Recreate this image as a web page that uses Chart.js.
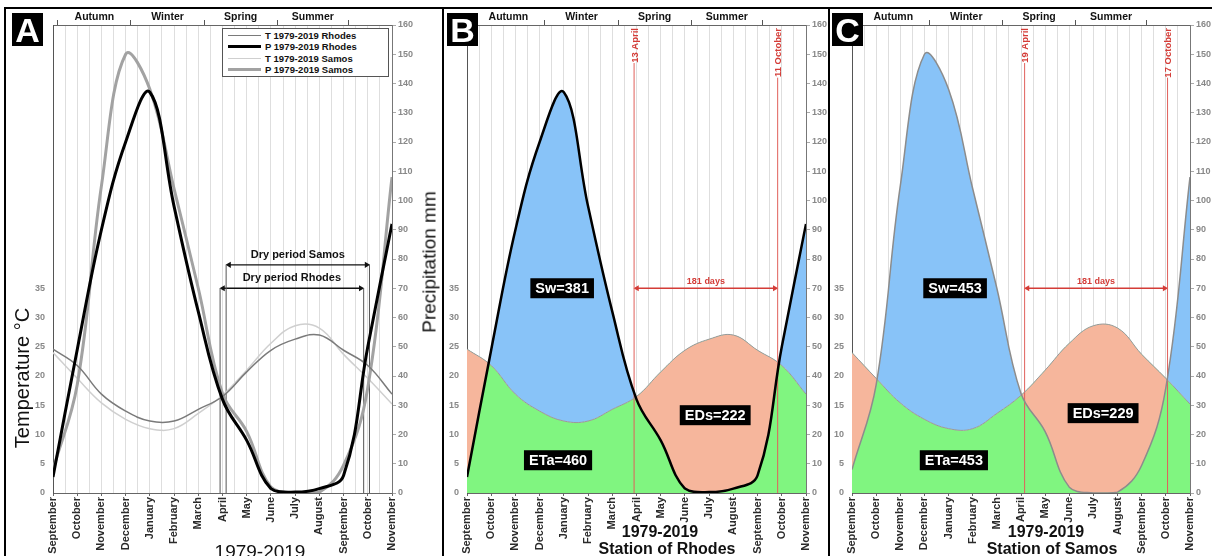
<!DOCTYPE html>
<html>
<head>
<meta charset="utf-8">
<script src="https://cdn.jsdelivr.net/npm/chart.js@4.4.1/dist/chart.umd.min.js"></script>
<style>
  body { margin: 0; background: #fff; font-family: "Liberation Sans", Arial, sans-serif; }
  #fig { position: relative; width: 1212px; height: 556px; overflow: hidden; background: #fff; }
  canvas { position: absolute; }
  .rule { position: absolute; background: #000; }
  .tag { position: absolute; width: 31px; height: 33px; background: #000; color: #fff;
         font: bold 34px "Liberation Sans", Arial, sans-serif; line-height: 34px; text-align: center; }
  .txt { position: absolute; white-space: nowrap; line-height: 1; color: #111; }
  .ctr { transform: translate(-50%, -50%); }
  .vert { transform: translate(-50%, -50%) rotate(-90deg); }
  #legendA { position: absolute; left: 222px; top: 28px; width: 165px; height: 46px;
             border: 1px solid #555; background: #fff; padding-top: 1px; }
  #legendA div { height: 11.3px; font: bold 9.5px "Liberation Sans", Arial, sans-serif; color: #111;
                 display: flex; align-items: center; }
  #legendA span { display: inline-block; width: 33px; margin: 0 4px 0 5px; }
</style>
</head>
<body>
<div id="fig">
  <div class="rule" style="left:4px;top:7px;width:1208px;height:2px"></div>
  <div class="rule" style="left:4px;top:7px;width:2px;height:549px"></div>
  <div class="rule" style="left:442px;top:7px;width:2px;height:549px"></div>
  <div class="rule" style="left:828px;top:7px;width:2px;height:549px"></div>

  <canvas id="chartA" width="436" height="547" style="left:6px;top:9px"></canvas>
  <canvas id="chartB" width="384" height="547" style="left:444px;top:9px"></canvas>
  <canvas id="chartC" width="382" height="547" style="left:830px;top:9px"></canvas>

  <div class="tag" style="left:12px;top:13px">A</div>
  <div class="tag" style="left:447px;top:13px">B</div>
  <div class="tag" style="left:832px;top:13px">C</div>

  <div class="txt vert" style="left:22px;top:378px;font-size:20px">Temperature °C</div>
  <div class="txt vert" style="left:429px;top:262px;font-size:19px">Precipitation mm</div>
  <div class="txt ctr" style="left:260px;top:551px;font-size:19px">1979-2019</div>
  <div class="txt ctr" style="left:660px;top:532px;font-size:16px;font-weight:bold">1979-2019</div>
  <div class="txt ctr" style="left:667px;top:549px;font-size:16px;font-weight:bold">Station of Rhodes</div>
  <div class="txt ctr" style="left:1046px;top:532px;font-size:16px;font-weight:bold">1979-2019</div>
  <div class="txt ctr" style="left:1052px;top:549px;font-size:16px;font-weight:bold">Station of Samos</div>

  <div id="legendA"></div>
</div>

<script>
Chart.defaults.font.family = '"Liberation Sans", Arial, sans-serif';
Chart.defaults.color = '#333';

// months from September to the next November
const months = ['September', 'October', 'November', 'December', 'January', 'February', 'March',
  'April', 'May', 'June', 'July', 'August', 'September', 'October', 'November'];
const seasons = ['Autumn', 'Winter', 'Spring', 'Summer'];
const seasonEdges = [0.2, 3.22, 6.24, 9.26, 12.2];

// monthly means 1979-2019 (T in °C, P in mm)
const tempRhodes = [24.6, 21.8, 16.9, 14.0, 12.3, 12.3, 14.3, 16.5, 20.7, 24.4, 26.3, 27.0, 24.4, 21.8, 16.9];
const precRhodes = [5.5, 49, 90, 120, 137, 98, 62, 32, 18, 1.5, 0.3, 1.5, 6, 50, 92];
const tempSamos = [24.0, 19.6, 15.4, 12.6, 11.0, 11.0, 13.6, 16.7, 21.0, 25.6, 28.6, 28.2, 23.7, 19.6, 15.2];
const precSamos = [8, 37, 105, 150, 138, 104, 70, 34, 21, 2, 0, 0.3, 9.5, 36, 108];

// dry period limits, in months from September
const dryRhodes = [6.9, 12.83];
const drySamos = [7.15, 13.07];
const dryDatesRhodes = ['13 April', '11 October'];
const dryDatesSamos = ['19 April', '17 October'];
const dryDays = 181;

// water balance totals
const balanceNames = ['Sw', 'EDs', 'ETa'];
const balanceRhodes = [381, 222, 460];
const balanceSamos = [453, 229, 453];

const blue = '#88c3f8';
const green = '#80f580';
const salmon = '#f6b69c';
const red = '#d43c37';

function pts(values) {
  return values.map((v, i) => ({ x: i, y: v }));
}

function vline(x, top, color) {
  return { data: [{ x: x, y: 0 }, { x: x, y: top }], borderColor: color, borderWidth: 1, tension: 0, fill: false };
}

function arrow(range, y, color) {
  return {
    data: [{ x: range[0] + 0.12, y: y }, { x: range[1] - 0.12, y: y }],
    borderColor: color, borderWidth: 1.3, tension: 0, fill: false,
    pointRadius: 3.5, pointStyle: 'triangle', pointRotation: [-90, 90],
    pointBackgroundColor: color, pointBorderColor: color, pointBorderWidth: 0
  };
}

// texts placed in data coordinates
function notesPlugin(items) {
  return {
    id: 'notes',
    afterDatasetsDraw(chart) {
      const ctx = chart.ctx;
      const xs = chart.scales.x;
      const ys = chart.scales.y;
      items.forEach(n => {
        const px = xs.getPixelForValue(n.x);
        const py = n.vertical ? chart.chartArea.top + 3 : ys.getPixelForValue(n.y);
        ctx.save();
        ctx.font = n.font;
        ctx.translate(px, py);
        if (n.vertical) ctx.rotate(-Math.PI / 2);
        ctx.textAlign = n.vertical ? 'right' : 'center';
        ctx.textBaseline = 'middle';
        if (n.box) {
          const w = ctx.measureText(n.text).width;
          ctx.fillStyle = n.box;
          ctx.fillRect(-w / 2 - 5, -10, w + 10, 20);
        }
        ctx.fillStyle = n.color;
        ctx.fillText(n.text, 0, 1);
        ctx.restore();
      });
    }
  };
}

function makeChart(id, datasets, leftW, rightW, notes) {
  datasets.forEach(d => {
    d.xAxisID = 'x';
    d.yAxisID = d.yAxisID || 'y';
  });
  const seasonTicks = [];
  seasonEdges.forEach((e, i) => {
    seasonTicks.push(e);
    if (i < seasons.length) seasonTicks.push((e + seasonEdges[i + 1]) / 2);
  });
  return new Chart(document.getElementById(id), {
    type: 'line',
    data: { datasets: datasets },
    options: {
      responsive: false,
      animation: false,
      layout: { padding: 0 },
      elements: { point: { radius: 0 }, line: { tension: 0.4 } },
      plugins: {
        legend: { display: false },
        tooltip: { enabled: false },
        filler: { drawTime: 'beforeDatasetsDraw', propagate: false }
      },
      scales: {
        x: {
          type: 'linear', position: 'bottom', min: 0, max: 14,
          afterBuildTicks: s => { s.ticks = Array.from({ length: 29 }, (_, i) => ({ value: i / 2 })); },
          ticks: {
            autoSkip: false, minRotation: 90, maxRotation: 90, padding: 1, color: '#2a2a2a',
            font: { size: 11, weight: 'bold' },
            callback: v => Number.isInteger(v) ? months[v] : ''
          },
          grid: {
            color: '#dedede', tickLength: 3,
            tickColor: c => Number.isInteger(c.tick && c.tick.value) ? '#666' : 'rgba(0,0,0,0)'
          },
          border: { color: '#666' },
          afterFit: s => { s.height = 63; }
        },
        xs: {
          type: 'linear', position: 'top', min: 0, max: 14,
          afterBuildTicks: s => { s.ticks = seasonTicks.map(v => ({ value: v })); },
          ticks: {
            autoSkip: false, maxRotation: 0, padding: -3, color: '#111',
            font: { size: 10.5, weight: 'bold' },
            callback: (v, i) => i % 2 ? seasons[(i - 1) / 2] : ''
          },
          grid: {
            drawOnChartArea: false, tickLength: 5,
            tickColor: c => c.index % 2 ? 'rgba(0,0,0,0)' : '#555'
          },
          border: { color: '#666' },
          afterFit: s => { s.height = 16; }
        },
        yT: {
          type: 'linear', position: 'left', min: 0, max: 80,
          afterBuildTicks: s => { s.ticks = [0, 5, 10, 15, 20, 25, 30, 35].map(v => ({ value: v })); },
          ticks: { color: '#888', padding: 8, font: { size: 9, weight: 'bold' } },
          grid: { display: false, drawTicks: false },
          border: { color: '#555' },
          afterFit: s => { s.width = leftW; }
        },
        y: {
          type: 'linear', position: 'right', min: 0, max: 160,
          afterBuildTicks: s => { s.ticks = Array.from({ length: 17 }, (_, i) => ({ value: i * 10 })); },
          ticks: { color: '#888', padding: 2, font: { size: 9, weight: 'bold' } },
          grid: { drawOnChartArea: false, tickLength: 4, tickColor: '#aaa' },
          border: { color: '#777' },
          afterFit: s => { s.width = rightW; }
        }
      }
    },
    plugins: [notesPlugin(notes)]
  });
}

// ---- panel A: both stations
const dsA = [
  { label: 'P 1979-2019 Rhodes', data: pts(precRhodes), borderColor: '#000', borderWidth: 3, fill: false },
  { label: 'T 1979-2019 Rhodes', data: pts(tempRhodes), yAxisID: 'yT', borderColor: '#7a7a7a', borderWidth: 1.5, fill: false },
  { label: 'P 1979-2019 Samos', data: pts(precSamos), borderColor: '#a2a2a2', borderWidth: 3, fill: false },
  { label: 'T 1979-2019 Samos', data: pts(tempSamos), yAxisID: 'yT', borderColor: '#cfcfcf', borderWidth: 1.5, fill: false },
  vline(dryRhodes[0], 70, '#555'), vline(dryRhodes[1], 70, '#555'),
  vline(drySamos[0], 78, '#555'), vline(drySamos[1], 78, '#555'),
  arrow(drySamos, 78, '#111'), arrow(dryRhodes, 70, '#111')
];
const legendOrder = ['T 1979-2019 Rhodes', 'P 1979-2019 Rhodes', 'T 1979-2019 Samos', 'P 1979-2019 Samos'];
document.getElementById('legendA').innerHTML = legendOrder.map(name => {
  const d = dsA.find(s => s.label === name);
  return '<div><span style="border-top:' + d.borderWidth + 'px solid ' + d.borderColor + '"></span>' + name + '</div>';
}).join('');

makeChart('chartA', dsA, 47, 50, [
  { text: 'Dry period Samos', x: (drySamos[0] + drySamos[1]) / 2, y: 81.8, font: 'bold 11px "Liberation Sans", Arial', color: '#111' },
  { text: 'Dry period Rhodes', x: (dryRhodes[0] + dryRhodes[1]) / 2, y: 73.8, font: 'bold 11px "Liberation Sans", Arial', color: '#111' }
]);

// ---- panels B and C: water balance per station
function balanceDatasets(prec, temp, dry, pColor, pWidth) {
  return [
    { data: pts(prec), borderColor: pColor, borderWidth: pWidth, fill: { target: 1, above: blue, below: salmon } },
    { data: pts(temp), yAxisID: 'yT', borderColor: '#999', borderWidth: 1, fill: { target: 'origin', above: green, below: green } },
    vline(dry[0], 147, '#e0605b'), vline(dry[1], 142, '#e0605b'),
    arrow(dry, 70, red)
  ];
}

function balanceNotes(dry, dates, totals, pos) {
  const notes = [
    { text: dates[0], x: dry[0], vertical: true, font: 'bold 9.5px "Liberation Sans", Arial', color: red },
    { text: dates[1], x: dry[1], vertical: true, font: 'bold 9.5px "Liberation Sans", Arial', color: red },
    { text: dryDays + ' days', x: (dry[0] + dry[1]) / 2, y: 72.6, font: 'bold 9px "Liberation Sans", Arial', color: red }
  ];
  balanceNames.forEach((name, i) => {
    notes.push({ text: name + '=' + totals[i], x: pos[i][0], y: pos[i][1], box: '#000', color: '#fff',
      font: 'bold 14.5px "Liberation Sans", Arial' });
  });
  return notes;
}

makeChart('chartB', balanceDatasets(precRhodes, tempRhodes, dryRhodes, '#000', 2.5), 23, 22,
  balanceNotes(dryRhodes, dryDatesRhodes, balanceRhodes, [[3.93, 70], [10.25, 26.6], [3.76, 11.2]]));

makeChart('chartC', balanceDatasets(precSamos, tempSamos, drySamos, '#8c8c8c', 1.5), 22, 22,
  balanceNotes(drySamos, dryDatesSamos, balanceSamos, [[4.27, 70], [10.4, 27.3], [4.22, 11.2]]));
</script>
</body>
</html>
